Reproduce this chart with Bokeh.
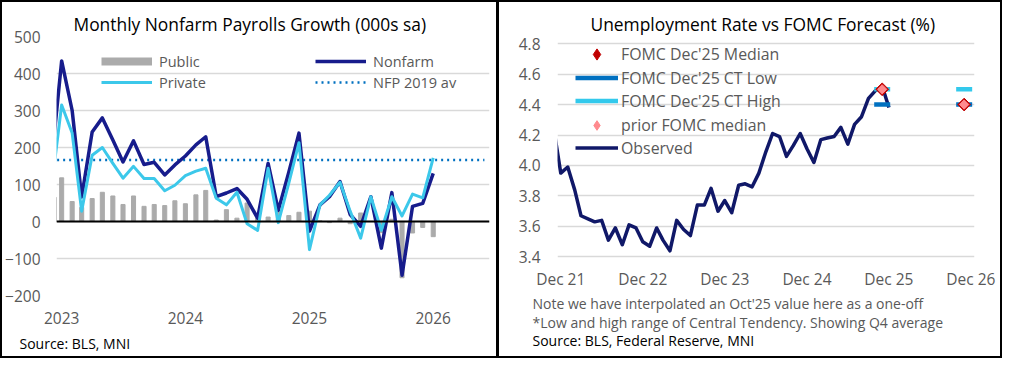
import numpy as np
import pandas as pd
from bokeh.plotting import figure
from bokeh.layouts import row
from bokeh.models import (Range1d, FixedTicker, DatetimeTickFormatter, NumeralTickFormatter,
                          Span, Legend, LegendItem, Title)
from bokeh.embed import file_html
from bokeh.resources import INLINE

# ---------------- Left chart data (000s, monthly change, sa) ----------------
nfp_months = pd.date_range("2022-12-01", "2026-01-01", freq="MS")
nonfarm = [150, 434, 300, 66, 242, 280, 220, 161, 218, 154, 160, 126, 153,
           177, 207, 229, 67, 77, 89, 60, 9, 157, 30, 133, 239,
           -26, 45, 67, 108, 19, -13, 67, -72, 78, -145, 41, 49, 130]
private = [85, 315, 239, 28, 179, 200, 157, 117, 149, 116, 116, 83, 98,
           124, 136, 144, 63, 45, 79, -6, -24, 144, -3, 104, 213,
           -76, 45, 71, 106, 28, -45, 67, -24, 67, 15, 74, 64, 172]
public = [65, 118, 54, 38, 62, 79, 69, 46, 69, 41, 46, 43, 56,
          48, 72, 84, 4, 32, 9, 50, 20, 12, 30, 16, 25,
          28, 2, -3, 9, -6, 23, 0, -30, 6, -152, -31, -16, -41]
nfp_2019_av = 166
nfp_av_months = pd.date_range("2022-12-01", "2026-06-01", freq="MS")
nfp_av_series = [nfp_2019_av] * len(nfp_av_months)
left_years = ["2023", "2024", "2025", "2026"]
left_yticks = [-200, -100, 0, 100, 200, 300, 400, 500]

# ---------------- Right chart data (%) ----------------
ur_months = pd.date_range("2021-11-01", "2025-12-01", freq="MS")
unemployment = [4.23, 3.95, 3.99, 3.84, 3.67, 3.65, 3.63, 3.64, 3.51, 3.59, 3.48, 3.61,
                3.59, 3.50, 3.47, 3.59, 3.51, 3.44, 3.64, 3.58, 3.54, 3.74, 3.74, 3.85,
                3.70, 3.77, 3.69, 3.87, 3.88, 3.86, 3.95, 4.09, 4.21, 4.19, 4.06, 4.13,
                4.21, 4.11, 4.02, 4.17, 4.18, 4.19, 4.25, 4.14, 4.27, 4.32, 4.44, 4.49,
                4.52, 4.38]
fomc_q4 = pd.to_datetime(["2025-11-01", "2026-11-01"])
fomc_median = [4.5, 4.4]
ct_low = [4.4, 4.4]
ct_high = [4.5, 4.5]
prior_median = [4.5, 4.4]
right_ticks = pd.to_datetime(["2021-12-01", "2022-12-01", "2023-12-01",
                              "2024-12-01", "2025-12-01", "2026-12-01"])
right_yticks = [3.4, 3.6, 3.8, 4.0, 4.2, 4.4, 4.6, 4.8]

FONT = "Open Sans"
GRAY_TXT = "#595959"
GRID = "#D9D9D9"
NAVY = "#171C8C"
CYAN = "#3CC8EA"
OBS = "#101868"
BAR = "#ABABAB"
RED = "#C00000"
PINK = "#FF8A8E"
CT_LOW_C = "#0070C0"
CT_HIGH_C = "#33C9EC"

H = 358
MB_TOP, MB_BOTTOM = 34, 65


def ms(ts):
    return pd.Timestamp(ts).value / 1e6


def style_axes(p):
    for ax in (p.xaxis[0], p.yaxis[0]):
        ax.axis_line_color = None
        ax.major_tick_line_color = None
        ax.minor_tick_line_color = None
        ax.major_tick_out = 0
        ax.major_tick_in = 0
        ax.minor_tick_out = 0
        ax.minor_tick_in = 0
        ax.major_label_text_font = FONT
        ax.major_label_text_font_size = "15.5px"
        ax.major_label_text_color = GRAY_TXT
    p.xgrid.grid_line_color = None
    p.ygrid.grid_line_color = GRID
    p.ygrid.grid_line_width = 1.5
    p.outline_line_color = None
    p.border_fill_color = "white"


def add_title(p, text, offset, standoff):
    p.add_layout(Title(text=text, align="left", offset=offset, standoff=standoff,
                       text_font=FONT, text_font_size="17.4px", text_font_style="normal",
                       text_color="#000000", vertical_align="bottom"), "above")


def add_note(p, text, offset, standoff, color, valign="top", size="14px", lh=1.0):
    p.add_layout(Title(text=text, align="left", offset=offset, standoff=standoff,
                       text_font=FONT, text_font_size=size, text_font_style="normal",
                       text_color=color, vertical_align=valign, text_line_height=lh),
                 "below")


def key_legend(p, label, renderer, loc, glyph_h, glyph_w, standoff, size):
    p.add_layout(Legend(items=[LegendItem(label=label, renderers=[renderer])],
                        location=loc, padding=0, margin=0, spacing=0,
                        label_height=20, glyph_height=glyph_h, glyph_width=glyph_w,
                        label_standoff=standoff, background_fill_alpha=0,
                        border_line_color=None, label_text_font=FONT,
                        label_text_font_size=size, label_text_color=GRAY_TXT))


# ---------------- Left figure ----------------
x0 = pd.Timestamp("2023-01-01") - pd.Timedelta(days=15.2)
x1 = pd.Timestamp("2023-01-01") + pd.Timedelta(days=1262)
p1 = figure(width=498, height=H, x_axis_type="datetime",
            x_range=Range1d(ms(x0), ms(x1)), y_range=Range1d(-200, 500),
            output_backend="svg", toolbar_location=None,
            min_border_left=54, min_border_right=11,
            min_border_top=MB_TOP, min_border_bottom=MB_BOTTOM)
style_axes(p1)
p1.yaxis.ticker = FixedTicker(ticks=left_yticks)
p1.xaxis.ticker = FixedTicker(ticks=[ms(pd.Timestamp(y + "-01-01")) for y in left_years])
p1.xaxis.formatter = DatetimeTickFormatter(days="%Y", months="%Y", years="%Y")
p1.yaxis.major_label_standoff = 16
p1.xaxis.major_label_standoff = 16

bar_w = pd.Timedelta(days=12).total_seconds() * 1000
p1.vbar(x=nfp_months, top=public, width=bar_w, bottom=0, color=BAR)
p1.add_layout(Span(location=0, dimension="width", line_color="black", line_width=2))
r_av = p1.line(nfp_av_months, nfp_av_series, line_color="#0070C0", line_width=2.5,
               line_dash="2 4")
r_nfp = p1.line(nfp_months, nonfarm, line_color=NAVY, line_width=3.5, line_join="round")
r_priv = p1.line(nfp_months, private, line_color=CYAN, line_width=3, line_join="round")
# legend-only key for the Public bars (hidden in the plot)
pub_key = p1.line(nfp_months, public, line_color=BAR, line_width=8, visible=False)

leg_common = dict(padding=0, margin=0, spacing=1, label_height=20, glyph_height=20,
                  glyph_width=51, label_standoff=7, background_fill_alpha=0,
                  border_line_color=None, label_text_font=FONT,
                  label_text_font_size="14.5px", label_text_color=GRAY_TXT)
leg1 = Legend(items=[LegendItem(label="Public", renderers=[pub_key]),
                     LegendItem(label="Private", renderers=[r_priv])],
              location=(45, 203), **leg_common)
leg2 = Legend(items=[LegendItem(label="Nonfarm", renderers=[r_nfp]),
                     LegendItem(label="NFP 2019 av", renderers=[r_av])],
              location=(259, 203), **leg_common)
p1.add_layout(leg1)
p1.add_layout(leg2)

add_title(p1, "Monthly Nonfarm Payrolls Growth (000s sa)", 17, 2)
add_note(p1, "Source: BLS, MNI", -37, 11, "#000000", valign="bottom")
p1.styles = {"border": "2px solid #000"}

# ---------------- Right figure ----------------
rx0 = pd.Timestamp("2021-12-01") - pd.Timedelta(days=14.6)
rx1 = pd.Timestamp("2021-12-01") + pd.Timedelta(days=1842)
p2 = figure(width=504, height=H, x_axis_type="datetime",
            x_range=Range1d(ms(rx0), ms(rx1)), y_range=Range1d(3.1467, 4.8466),
            output_backend="svg", toolbar_location=None,
            min_border_left=58, min_border_right=29,
            min_border_top=MB_TOP, min_border_bottom=MB_BOTTOM)
style_axes(p2)
p2.yaxis.ticker = FixedTicker(ticks=right_yticks)
p2.yaxis.formatter = NumeralTickFormatter(format="0.0")
p2.xaxis.ticker = FixedTicker(ticks=[ms(t) for t in right_ticks])
p2.xaxis.formatter = DatetimeTickFormatter(days="%b %y", months="%b %y", years="%b %y")
p2.yaxis.major_label_standoff = 17
p2.xaxis.major_label_standoff = -28

r_obs = p2.line(ur_months, unemployment, line_color=OBS, line_width=3.5, line_join="round")
p2.scatter(fomc_q4, ct_low, marker="dash", size=16, line_width=4.5, line_color=CT_LOW_C)
p2.scatter(fomc_q4, ct_high, marker="dash", size=16, line_width=4.5, line_color=CT_HIGH_C)
p2.scatter(fomc_q4, fomc_median, marker="square", angle=np.pi / 4, size=9,
           fill_color=RED, line_color=RED)
p2.scatter(fomc_q4, prior_median, marker="square", angle=np.pi / 4, size=6.5,
           fill_color=PINK, line_color=PINK)
# legend-only keys (hidden in the plot)
med_key = p2.scatter(fomc_q4, fomc_median, marker="diamond", fill_color=RED,
                     line_color=RED, visible=False)
low_key = p2.line(fomc_q4, ct_low, line_color=CT_LOW_C, line_width=4.5, visible=False)
high_key = p2.line(fomc_q4, ct_high, line_color=CT_HIGH_C, line_width=4.5, visible=False)
prior_key = p2.scatter(fomc_q4, prior_median, marker="diamond", fill_color=PINK,
                       line_color=PINK, visible=False)

LS = "15.9px"
key_legend(p2, "FOMC Dec'25 Median", med_key, (18, 226.7), 28, 43, 3, LS)
key_legend(p2, "FOMC Dec'25 CT Low", low_key, (18, 206.3), 21, 43, 3, LS)
key_legend(p2, "FOMC Dec'25 CT High", high_key, (18, 183.1), 21, 43, 3, LS)
key_legend(p2, "prior FOMC median", prior_key, (18, 158.5), 24, 43, 3, LS)
key_legend(p2, "Observed", r_obs, (18, 136.1), 21, 43, 3, LS)

add_title(p2, "Unemployment Rate vs FOMC Forecast (%)", 33, 2)
add_note(p2, "Note we have interpolated an Oct'25 value here as a one-off\n"
             "*Low and high range of Central Tendency. Showing Q4 average",
         -25, -3, GRAY_TXT)
add_note(p2, "Source: BLS, Federal Reserve, MNI", -25, -4, "#000000")
p2.styles = {"border-top": "2px solid #000", "border-right": "2px solid #000",
             "border-bottom": "2px solid #000", "border-left": "1px solid #000"}

layout = row(p1, p2)
open("out.html", "w").write(file_html(layout, INLINE))
